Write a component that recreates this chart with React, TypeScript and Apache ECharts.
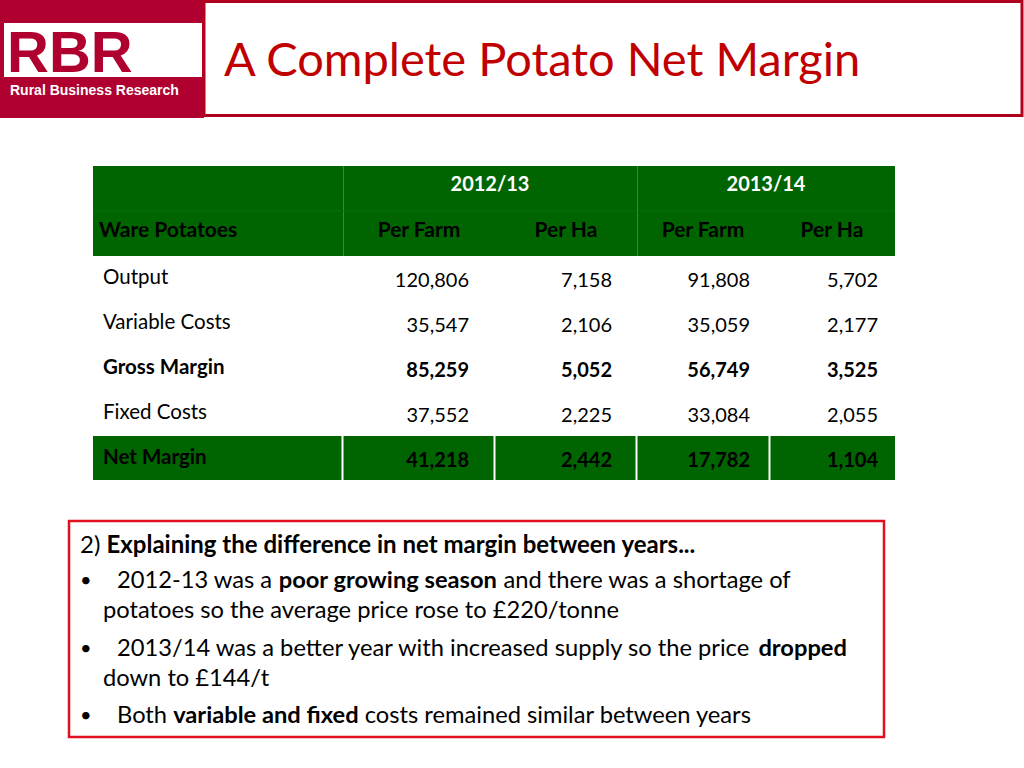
import React, { useEffect, useRef } from "react";
import * as echarts from "echarts";

const titleText = "A Complete Potato Net Margin";
const years = ["2012/13", "2013/14"];
const subHeaders = ["Per Farm", "Per Ha", "Per Farm", "Per Ha"];
const cornerLabel = "Ware Potatoes";
const rowLabels = ["Output", "Variable Costs", "Gross Margin", "Fixed Costs", "Net Margin"];
const perFarm1213 = [120806, 35547, 85259, 37552, 41218];
const perHa1213 = [7158, 2106, 5052, 2225, 2442];
const perFarm1314 = [91808, 35059, 56749, 33084, 17782];
const perHa1314 = [5702, 2177, 3525, 2055, 1104];
const boldRows = [false, false, true, false, true];

const noteLines = [
  { bullet: false, indent: 0, text: "{n|2) }{b|Explaining the difference in net margin between years...}" },
  { bullet: true, indent: 1, text: "{n|2012-13 was a }{b|poor growing season}{n| and there was a shortage of}" },
  { bullet: false, indent: 2, text: "{n|potatoes so the average price rose to £220/tonne}" },
  { bullet: true, indent: 1, text: "{n|2013/14 was a better year with increased supply so the price }{b|dropped}" },
  { bullet: false, indent: 2, text: "{n|down to £144/t}" },
  { bullet: true, indent: 1, text: "{n|Both }{b|variable and fixed}{n| costs remained similar between years}" },
];

const FONT = "Lato, 'Open Sans', sans-serif";
const GREEN = "#006400";

export default function App() {
  const ref = useRef<HTMLDivElement>(null);
  useEffect(() => {
    if (!ref.current) return;
    const chart = echarts.init(ref.current, null, { renderer: "svg" });
    const els: any[] = [];

    // Logo
    els.push({ type: "rect", shape: { x: 0, y: 0, width: 204, height: 118 }, style: { fill: "#B0002F" } });
    els.push({ type: "rect", shape: { x: 4, y: 23, width: 198, height: 54 }, style: { fill: "#ffffff" } });
    els.push({
      type: "text", x: 7, y: 51,
      style: { text: "RBR", fill: "#B0002F", font: "bold 58px 'Liberation Sans', Arial, sans-serif", verticalAlign: "middle", align: "left" },
    });
    els.push({
      type: "text", x: 10, y: 90,
      style: { text: "Rural Business Research", fill: "#ffffff", font: "bold 14px 'Liberation Sans', Arial, sans-serif", verticalAlign: "middle", align: "left" },
    });
    // Title box
    els.push({ type: "rect", shape: { x: 204, y: 1.5, width: 818, height: 114 }, style: { fill: "#ffffff", stroke: "#B0001E", lineWidth: 3 } });
    els.push({
      type: "text", x: 224, y: 58,
      style: { text: titleText, fill: "#C00000", font: `47px ${FONT}`, verticalAlign: "middle", align: "left" },
    });

    // Table
    const colX = [93, 343, 495, 637, 770, 895];
    const valueRight = [469, 612, 750, 878];
    const subCenter = [419, 566, 703, 832];
    els.push({ type: "rect", shape: { x: 93, y: 166, width: 802, height: 90 }, style: { fill: GREEN } });
    els.push({ type: "line", shape: { x1: 343.5, y1: 166, x2: 343.5, y2: 256 }, style: { stroke: "#3a8a3a", lineWidth: 1 } });
    els.push({ type: "line", shape: { x1: 637.5, y1: 166, x2: 637.5, y2: 256 }, style: { stroke: "#3a8a3a", lineWidth: 1 } });
    els.push({ type: "line", shape: { x1: 93, y1: 211, x2: 895, y2: 211 }, style: { stroke: "#0a6e0a", lineWidth: 1 } });
    years.forEach((y, i) => {
      els.push({
        type: "text", x: i === 0 ? 490 : 766, y: 183,
        style: { text: y, fill: "#ffffff", font: `bold 20px ${FONT}`, align: "center", verticalAlign: "middle" },
      });
    });
    els.push({
      type: "text", x: 99, y: 228,
      style: { text: cornerLabel, fill: "#000000", font: `bold 21px ${FONT}`, align: "left", verticalAlign: "middle" },
    });
    subHeaders.forEach((s, i) => {
      els.push({
        type: "text", x: subCenter[i], y: 228,
        style: { text: s, fill: "#000000", font: `bold 21px ${FONT}`, align: "center", verticalAlign: "middle" },
      });
    });

    const rowTop = 256;
    const rowH = 45;
    const cols = [perFarm1213, perHa1213, perFarm1314, perHa1314];
    rowLabels.forEach((label, r) => {
      const top = rowTop + r * rowH;
      const isLast = r === rowLabels.length - 1;
      if (isLast) {
        const t = 436;
        els.push({ type: "rect", shape: { x: 93, y: t, width: 802, height: 44 }, style: { fill: GREEN } });
        colX.slice(1, 5).forEach((cx) => {
          els.push({ type: "line", shape: { x1: cx - 0.5, y1: t, x2: cx - 0.5, y2: t + 44 }, style: { stroke: "#ffffff", lineWidth: 2 } });
        });
      }
      const weight = boldRows[r] ? "bold " : "";
      const cy = isLast ? 459 : top + 23;
      els.push({
        type: "text", x: 103, y: cy - 3,
        style: { text: label, fill: "#000000", font: `${weight}20.5px ${FONT}`, align: "left", verticalAlign: "middle" },
      });
      cols.forEach((col, c) => {
        els.push({
          type: "text", x: valueRight[c], y: cy,
          style: { text: col[r].toLocaleString("en-US"), fill: "#000000", font: `${weight}20px ${FONT}`, align: "right", verticalAlign: "middle" },
        });
      });
    });

    // Note box
    els.push({ type: "rect", shape: { x: 69, y: 521, width: 815, height: 216 }, style: { fill: "#ffffff", stroke: "#E0101E", lineWidth: 2.5 } });
    const lineY = [543, 579, 609, 647, 677, 714];
    noteLines.forEach((ln, i) => {
      if (ln.bullet) {
        els.push({
          type: "text", x: 80, y: lineY[i],
          style: { text: "•", fill: "#000000", font: `20px ${FONT}`, align: "left", verticalAlign: "middle" },
        });
      }
      const x = ln.indent === 0 ? 80 : ln.indent === 1 ? 117 : 103;
      const fs = i === 0 ? 24 : 23.7;
      els.push({
        type: "text", x, y: lineY[i],
        style: {
          text: ln.text, align: "left", verticalAlign: "middle",
          rich: {
            n: { fill: "#000000", font: `${fs}px ${FONT}` },
            b: { fill: "#000000", font: `bold ${fs}px ${FONT}` },
          },
        },
      });
    });

    chart.setOption({ animation: false, graphic: { elements: els } });
    return () => chart.dispose();
  }, []);
  return <div ref={ref} style={{ position: "fixed", left: 0, top: 0, width: 1024, height: 768, background: "#fff" }} />;
}
